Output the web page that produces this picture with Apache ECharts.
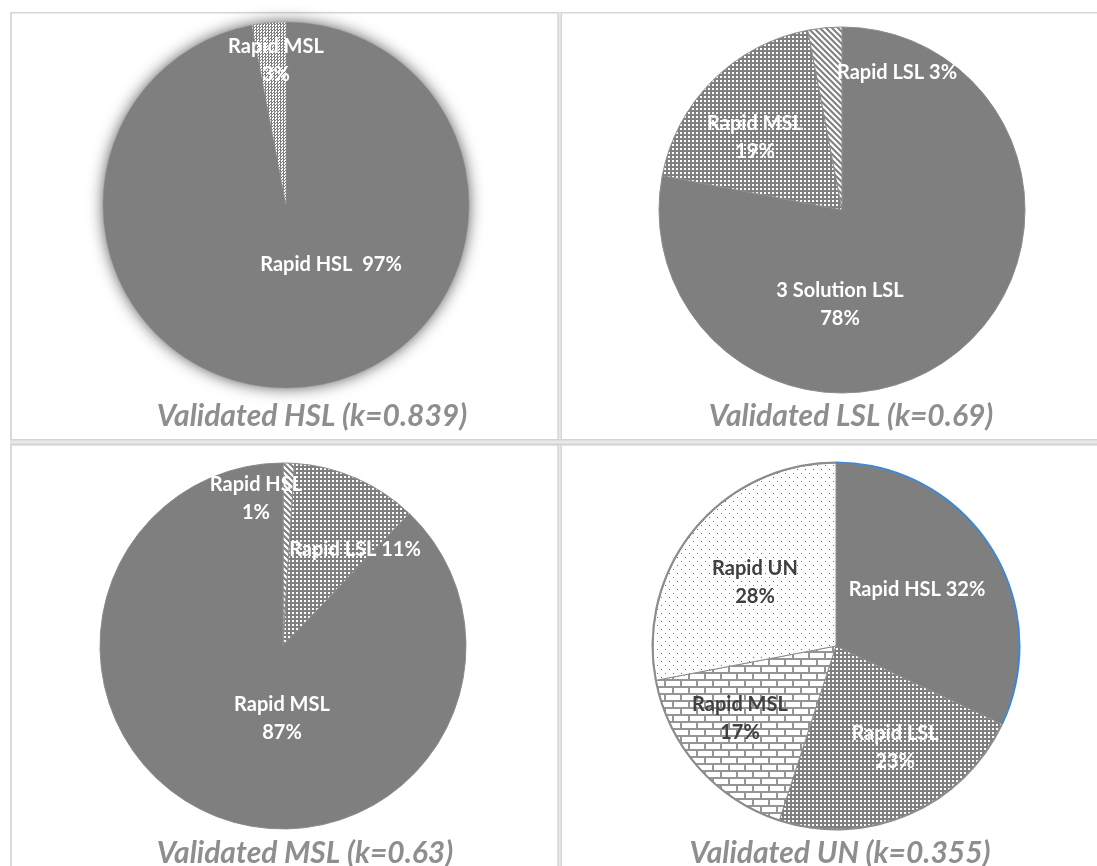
<!DOCTYPE html>
<html>
<head>
<meta charset="utf-8">
<title>Validated vs Rapid classification</title>
<script src="https://cdn.jsdelivr.net/npm/echarts@6.0.0/dist/echarts.min.js"></script>
<style>
  html, body { margin: 0; padding: 0; background: #ffffff; }
  #chart { width: 1097px; height: 866px; }
</style>
</head>
<body>
<div id="chart"></div>
<script>
// ---- data ----
const panelTitles = ['Validated HSL (k=0.839)', 'Validated LSL (k=0.69)', 'Validated MSL (k=0.63)', 'Validated UN (k=0.355)'];

const hslNames  = ['Rapid HSL', 'Rapid MSL'];
const hslValues = [97, 3];

const lslNames  = ['3 Solution LSL', 'Rapid MSL', 'Rapid LSL'];
const lslValues = [78, 19, 3];

const mslNames  = ['Rapid HSL', 'Rapid LSL', 'Rapid MSL'];
const mslValues = [1, 11, 87];

const unNames   = ['Rapid HSL', 'Rapid LSL', 'Rapid MSL', 'Rapid UN'];
const unValues  = [32, 23, 17, 28];

// ---- fill patterns ----
function makePattern(w, h, draw) {
  const c = document.createElement('canvas');
  c.width = w; c.height = h;
  draw(c.getContext('2d'), w, h);
  return { image: c, repeat: 'repeat' };
}
const GREY = '#7f7f7f';
const denseDots = makePattern(4, 4, g => {
  g.fillStyle = GREY; g.fillRect(0, 0, 4, 4);
  g.fillStyle = '#ffffff'; g.fillRect(0, 0, 2, 2);
});
const checker = makePattern(3, 3, g => {
  g.fillStyle = GREY; g.fillRect(0, 0, 3, 3);
  g.fillStyle = '#ffffff'; g.fillRect(0, 0, 1, 2); g.fillRect(2, 1, 1, 2);
});
const sparseDots = makePattern(8, 8, g => {
  g.fillStyle = '#ffffff'; g.fillRect(0, 0, 8, 8);
  g.fillStyle = '#6a6a6a'; g.fillRect(1, 1, 1, 1); g.fillRect(5, 5, 1, 1);
});
const brick = makePattern(16, 14, g => {
  g.fillStyle = '#ffffff'; g.fillRect(0, 0, 16, 14);
  g.fillStyle = '#959595';
  g.fillRect(0, 0, 16, 2); g.fillRect(0, 7, 16, 2);
  g.fillRect(0, 0, 2, 7); g.fillRect(8, 7, 2, 7);
});
const hatch = makePattern(6, 6, g => {
  g.fillStyle = '#ffffff'; g.fillRect(0, 0, 6, 6);
  g.strokeStyle = GREY; g.lineWidth = 2;
  g.beginPath();
  g.moveTo(-1, -1); g.lineTo(7, 7);
  g.moveTo(-1, 5); g.lineTo(1, 7);
  g.moveTo(5, -1); g.lineTo(7, 1);
  g.stroke();
});

// ---- per-panel styling and layout ----
const R = 183;
const CENTERS = [[286, 205], [842, 210], [283, 646], [836, 646]];
const FILLS = [
  [GREY, checker],
  [GREY, denseDots, hatch],
  [hatch, denseDots, GREY],
  [GREY, denseDots, brick, sparseDots]
];
const LABEL_COLORS = [
  ['#ffffff', '#ffffff'],
  ['#ffffff', '#ffffff', '#ffffff'],
  ['#ffffff', '#ffffff', '#ffffff'],
  ['#ffffff', '#ffffff', '#404040', '#404040']
];
const LABEL_SEP = [
  ['  ', '\n'],
  ['\n', '\n', ' '],
  ['\n', ' ', '\n'],
  [' ', '\n', '\n', '\n']
];
const LABEL_POS = [
  [[331, 265], [276, 61]],
  [[840, 305], [755, 138], [897, 73]],
  [[256, 499], [355, 550], [282, 719]],
  [[917, 590], [895, 748], [740, 719], [755, 583]]
];
const TITLE_POS = [[307, 396], [846, 396], [300, 833], [835, 833]];

const FONT = 'Lato, "Open Sans", sans-serif';

function pieSeries(idx, names, values, extra) {
  return Object.assign({
    type: 'pie',
    center: CENTERS[idx],
    radius: [0, R],
    startAngle: 90,
    clockwise: true,
    silent: true,
    animation: false,
    labelLine: { show: false },
    label: {
      show: true,
      position: 'inside',
      fontFamily: FONT,
      fontWeight: 'bold',
      fontSize: 20,
      lineHeight: 28,
      formatter: p => p.name + LABEL_SEP[idx][p.dataIndex] + p.value + '%'
    },
    labelLayout: p => {
      const pos = LABEL_POS[idx][p.dataIndex];
      return { x: pos[0], y: pos[1], align: 'center', verticalAlign: 'middle' };
    },
    data: names.map((n, i) => ({
      name: n,
      value: values[i],
      itemStyle: { color: FILLS[idx][i] },
      label: { color: LABEL_COLORS[idx][i] }
    })),
    itemStyle: { borderColor: '#8c8c8c', borderWidth: 1 }
  }, extra || {});
}

const series = [
  // soft halo behind the HSL panel pie
  {
    type: 'pie',
    center: CENTERS[0],
    radius: [0, R - 1],
    startAngle: 90,
    silent: true,
    animation: false,
    label: { show: false },
    labelLine: { show: false },
    data: [{ value: hslValues.reduce((a, b) => a + b, 0) }],
    itemStyle: { color: GREY, shadowBlur: 16, shadowColor: 'rgba(60,60,60,0.95)' }
  },
  pieSeries(0, hslNames, hslValues, {
    itemStyle: { borderColor: '#8c8c8c', borderWidth: 0.5 }
  }),
  pieSeries(1, lslNames, lslValues),
  pieSeries(2, mslNames, mslValues),
  pieSeries(3, unNames, unValues),
  // outer rim of the UN panel: blue on the HSL arc, grey elsewhere
  {
    type: 'pie',
    center: CENTERS[3],
    radius: [R - 0.5, R + 1.5],
    startAngle: 90,
    silent: true,
    animation: false,
    label: { show: false },
    labelLine: { show: false },
    data: unNames.map((n, i) => ({
      name: n, value: unValues[i],
      itemStyle: { color: i === 0 ? '#3f86d0' : '#8c8c8c' }
    })),
    itemStyle: { borderWidth: 0 }
  }
];

const titles = panelTitles.map((t, i) => ({
  text: t,
  left: TITLE_POS[i][0],
  top: TITLE_POS[i][1],
  textAlign: 'center',
  textStyle: {
    fontFamily: FONT,
    fontWeight: 'bold',
    fontStyle: 'italic',
    fontSize: 30,
    color: '#8e8e8e'
  }
}));

// panel frame lines
const frame = [
  { type: 'rect', shape: { x: 10, y: 12, width: 1087, height: 1.5 }, style: { fill: '#d6d6d6' } },
  { type: 'rect', shape: { x: 10, y: 12, width: 2, height: 854 }, style: { fill: '#dadada' } },
  { type: 'rect', shape: { x: 557.5, y: 12, width: 4.5, height: 854 }, style: { fill: '#e8e8e8' } },
  { type: 'rect', shape: { x: 557.5, y: 12, width: 1.2, height: 854 }, style: { fill: '#d4d4d4' } },
  { type: 'rect', shape: { x: 560.8, y: 12, width: 1.2, height: 854 }, style: { fill: '#d4d4d4' } },
  { type: 'rect', shape: { x: 10, y: 439, width: 1087, height: 6.5 }, style: { fill: '#e8e8e8' } },
  { type: 'rect', shape: { x: 10, y: 439, width: 1087, height: 1.6 }, style: { fill: '#d4d4d4' } },
  { type: 'rect', shape: { x: 10, y: 443.5, width: 1087, height: 2 }, style: { fill: '#d4d4d4' } }
].map(g => Object.assign(g, { silent: true, z: -1 }));

const chart = echarts.init(document.getElementById('chart'), null, { renderer: 'canvas' });
chart.setOption({
  backgroundColor: '#ffffff',
  animation: false,
  title: titles,
  graphic: frame,
  series: series
});
</script>
</body>
</html>
